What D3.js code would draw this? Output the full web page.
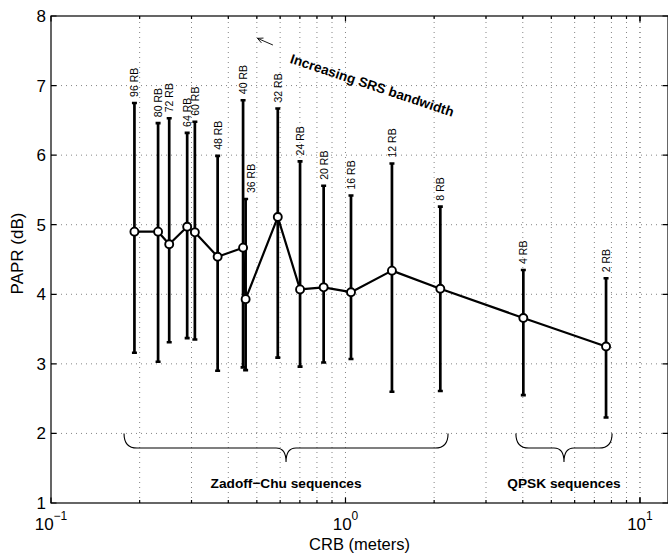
<!DOCTYPE html>
<html>
<head>
<meta charset="utf-8">
<script src="https://cdn.jsdelivr.net/npm/d3@7"></script>
<style>
  body { margin: 0; background: #fff; }
  svg { display: block; font-family: "Liberation Sans", Arial, sans-serif; }
</style>
</head>
<body>
<div class="chart"></div>
<script>
"use strict";

// values
const rbLabels = ["96 RB", "80 RB", "72 RB", "64 RB", "60 RB", "48 RB", "40 RB", "36 RB",
  "32 RB", "24 RB", "20 RB", "16 RB", "12 RB", "8 RB", "4 RB", "2 RB"];
const crb = [0.192, 0.231, 0.252, 0.290, 0.308, 0.368, 0.449, 0.458,
  0.589, 0.701, 0.843, 1.044, 1.438, 2.099, 4.017, 7.67];
const paprMean = [4.90, 4.90, 4.72, 4.97, 4.89, 4.54, 4.67, 3.93,
  5.11, 4.07, 4.10, 4.03, 4.34, 4.08, 3.66, 3.25];
const paprMax = [6.75, 6.46, 6.53, 6.32, 6.48, 5.99, 6.79, 5.37,
  6.67, 5.91, 5.56, 5.42, 5.88, 5.26, 4.35, 4.23];
const paprMin = [3.16, 3.03, 3.31, 3.37, 3.35, 2.90, 2.95, 2.91,
  3.09, 2.96, 3.02, 3.07, 2.60, 2.61, 2.55, 2.23];

const groupLabels = ["Zadoff\u2212Chu sequences", "QPSK sequences"];
const groupStart = [0.177, 3.79];
const groupEnd = [2.23, 8.04];

const yTicks = [1, 2, 3, 4, 5, 6, 7, 8];
const xMajor = [0.1, 1, 10];
const xExp = ["\u22121", "0", "1"];

const W = 668, H = 554;
const MARGIN = { top: 16, right: 0, bottom: 51, left: 51 };

const xScale = d3.scaleLog().domain([0.1, 12.45]).range([MARGIN.left, W - MARGIN.right]);
const yScale = d3.scaleLinear().domain([1, 8]).range([H - MARGIN.bottom, MARGIN.top]);

const data = crb.map((c, i) => ({
  x: c, mean: paprMean[i], max: paprMax[i], min: paprMin[i], label: rbLabels[i]
}));

const svg = d3.select(".chart").append("svg").attr("width", W).attr("height", H);

const x0 = MARGIN.left, x1 = W - MARGIN.right;
const y0 = H - MARGIN.bottom, y1 = MARGIN.top;

// minor log ticks between 0.1 and 12
const xMinor = [];
for (let d = 0.1; d < 12; d *= 10) {
  for (let k = 1; k < 10; k++) {
    const v = d * k;
    if (v <= 12.45) xMinor.push(v);
  }
}
xMinor.push(10);

// grid
const grid = svg.append("g").attr("stroke", "#666").attr("stroke-width", 0.8)
  .attr("stroke-dasharray", "1,4");
grid.selectAll(".gx").data(xMinor.filter((v) => v > 0.1)).enter().append("line")
  .attr("x1", (d) => xScale(d)).attr("x2", (d) => xScale(d))
  .attr("y1", y0).attr("y2", y1);
grid.selectAll(".gy").data(yTicks.filter((v) => v > 1 && v < 8)).enter().append("line")
  .attr("x1", x0).attr("x2", x1)
  .attr("y1", (d) => yScale(d)).attr("y2", (d) => yScale(d));

// axes box + ticks
const ax = svg.append("g").attr("stroke", "#000").attr("stroke-width", 1.2).attr("fill", "none");
ax.append("rect").attr("x", x0).attr("y", y1).attr("width", x1 - x0).attr("height", y0 - y1);
ax.selectAll(".ty").data(yTicks).enter().append("path")
  .attr("d", (d) => `M${x0},${yScale(d)}h5.5M${x1},${yScale(d)}h-5.5`);
ax.selectAll(".tx").data(xMinor).enter().append("path")
  .attr("d", (d) => {
    const len = xMajor.includes(d) ? 5.5 : 3;
    return `M${xScale(d)},${y0}v${-len}M${xScale(d)},${y1}v${len}`;
  });

// tick labels
svg.selectAll(".yl").data(yTicks).enter().append("text")
  .attr("x", x0 - 5).attr("y", (d) => yScale(d) + 6)
  .attr("text-anchor", "end").attr("font-size", 17).text((d) => d);

const xl = svg.selectAll(".xl").data(xMajor).enter().append("text")
  .attr("x", (d) => xScale(d)).attr("y", y0 + 27)
  .attr("text-anchor", "middle").attr("font-size", 17);
xl.append("tspan").text("10");
xl.append("tspan").attr("dy", -10).attr("font-size", 12).text((d, i) => xExp[i]);

// axis titles
svg.append("text").attr("x", (x0 + x1) / 2).attr("y", H - 4)
  .attr("text-anchor", "middle").attr("font-size", 16.5).text("CRB (meters)");
svg.append("text")
  .attr("transform", `translate(23,${(y0 + y1) / 2 - 6}) rotate(-90)`)
  .attr("text-anchor", "middle").attr("font-size", 17).text("PAPR (dB)");

// error bars
const bars = svg.append("g").attr("stroke", "#000");
bars.selectAll(".eb").data(data).enter().append("line")
  .attr("x1", (d) => xScale(d.x)).attr("x2", (d) => xScale(d.x))
  .attr("y1", (d) => yScale(d.min)).attr("y2", (d) => yScale(d.max))
  .attr("stroke-width", 2.7);
bars.selectAll(".capt").data(data).enter().append("path")
  .attr("stroke-width", 2.6)
  .attr("d", (d) => `M${xScale(d.x) - 2.5},${yScale(d.max)}h5M${xScale(d.x) - 2.5},${yScale(d.min)}h5`);

// mean line + markers
svg.append("path").datum(data)
  .attr("fill", "none").attr("stroke", "#000").attr("stroke-width", 2.2)
  .attr("stroke-linejoin", "round")
  .attr("d", d3.line().x((d) => xScale(d.x)).y((d) => yScale(d.mean)));
svg.selectAll(".mk").data(data).enter().append("circle")
  .attr("cx", (d) => xScale(d.x)).attr("cy", (d) => yScale(d.mean))
  .attr("r", 4).attr("fill", "#fff").attr("stroke", "#000").attr("stroke-width", 1.9);

// RB labels above bars
svg.selectAll(".rb").data(data).enter().append("text")
  .attr("transform", (d) => {
    const dx = d.label === "36 RB" ? 9 : 4;
    return `translate(${xScale(d.x) + dx},${yScale(d.max) - 6}) rotate(-90)`;
  })
  .attr("font-size", 10.5).text((d) => d.label);

// braces under the groups
const yTop = yScale(2.0), yMid = yScale(1.79), yTip = yScale(1.59);
const braces = groupLabels.map((l, i) => ({ label: l, a: groupStart[i], b: groupEnd[i] }));
svg.selectAll(".br").data(braces).enter().append("path")
  .attr("fill", "none").attr("stroke", "#000").attr("stroke-width", 1.1)
  .attr("d", (d) => {
    const a = xScale(d.a), b = xScale(d.b), m = (a + b) / 2;
    return `M${a},${yTop}Q${a},${yMid} ${a + 13},${yMid}L${m - 10},${yMid}` +
      `Q${m},${yMid} ${m},${yTip}Q${m},${yMid} ${m + 10},${yMid}` +
      `L${b - 13},${yMid}Q${b},${yMid} ${b},${yTop}`;
  });
svg.selectAll(".bl").data(braces).enter().append("text")
  .attr("x", (d) => (xScale(d.a) + xScale(d.b)) / 2).attr("y", yScale(1.215))
  .attr("text-anchor", "middle").attr("font-size", 13.7).attr("font-weight", "bold")
  .text((d) => d.label);

// annotation arrow + text
const ax1 = xScale(0.567), ay1 = yScale(7.583), ax2 = xScale(0.5026), ay2 = yScale(7.679);
const ang = Math.atan2(ay2 - ay1, ax2 - ax1);
svg.append("path").attr("fill", "none").attr("stroke", "#000").attr("stroke-width", 0.9)
  .attr("d", `M${ax1},${ay1}L${ax2},${ay2}` +
    `M${ax2 + 6 * Math.cos(ang + Math.PI - 0.45)},${ay2 + 6 * Math.sin(ang + Math.PI - 0.45)}` +
    `L${ax2},${ay2}L${ax2 + 6 * Math.cos(ang + Math.PI + 0.45)},${ay2 + 6 * Math.sin(ang + Math.PI + 0.45)}`);
svg.append("text")
  .attr("transform", `translate(${xScale(0.6446)},${yScale(7.329)}) rotate(18.4)`)
  .attr("font-size", 13.6).attr("font-weight", "bold").text("Increasing SRS bandwidth");
</script>
</body>
</html>
